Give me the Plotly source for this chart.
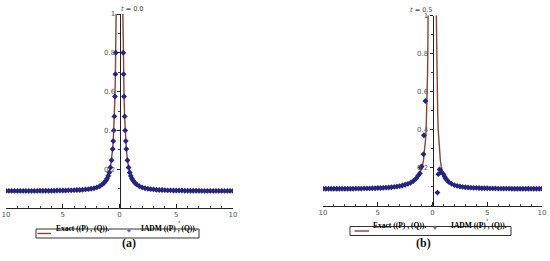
import plotly.graph_objects as go

# ---- data ----
# exact solution, panel (a) t = 0.0 (None splits the two branches)
exact_a_x = [-10, -7, -5, -4, -3, -2.5, -2, -1.5, -1.2, -1.0, -0.9, -0.8, -0.7, -0.6, -0.55, -0.5,
             -0.45, -0.4, -0.37, -0.34, -0.32, -0.3, -0.28, None,
             0.28, 0.3, 0.32, 0.34, 0.37, 0.4, 0.45, 0.5, 0.55, 0.6, 0.7, 0.8, 0.9, 1.0, 1.2, 1.5,
             2, 2.5, 3, 4, 5, 7, 10]
exact_a_y = [0.088, 0.089, 0.090, 0.092, 0.096, 0.099, 0.106, 0.122, 0.141, 0.165, 0.183, 0.209, 0.246,
             0.305, 0.345, 0.40, 0.472, 0.575, 0.66, 0.76, 0.85, 0.95, 1.08, None,
             1.08, 0.95, 0.85, 0.76, 0.66, 0.575, 0.472, 0.40, 0.345, 0.305, 0.246, 0.209, 0.183,
             0.165, 0.141, 0.122, 0.106, 0.099, 0.096, 0.092, 0.090, 0.089, 0.088]

# exact solution, panel (b) t = 0.5
exact_b_x = [-10, -7, -5, -4, -3, -2.5, -2, -1.6, -1.3, -1.1, -0.94, -0.82, -0.7, -0.63, -0.58, -0.52,
             -0.48, -0.45, -0.43, -0.41, -0.4, -0.39, None,
             0.33, 0.34, 0.355, 0.37, 0.4, 0.43, 0.47, 0.52, 0.58, 0.64, 0.72, 0.82, 1.0, 1.2, 1.5,
             2, 2.5, 3, 4, 5, 7, 10]
exact_b_y = [0.088, 0.089, 0.092, 0.095, 0.102, 0.109, 0.12, 0.137, 0.158, 0.18, 0.2, 0.24, 0.3, 0.35,
             0.4, 0.5, 0.6, 0.7, 0.8, 0.9, 1.0, 1.08, None,
             1.08, 1.0, 0.9, 0.8, 0.7, 0.6, 0.5, 0.4, 0.33, 0.28, 0.235, 0.2, 0.165, 0.142, 0.123,
             0.107, 0.1, 0.096, 0.093, 0.091, 0.089, 0.088]

# IADM points, panel (a)
iadm_a_x = [-10, -9.75, -9.5, -9.25, -9, -8.75, -8.5, -8.25, -8, -7.75, -7.5, -7.25, -7, -6.75, -6.5,
            -6.25, -6, -5.75, -5.5, -5.25, -5, -4.75, -4.5, -4.25, -4, -3.75, -3.5, -3.25, -3, -2.75,
            -2.5, -2.25, -2, -1.75, -1.5, -1.35, -1.2, -1.1, -1.0, -0.9, -0.8, -0.7, -0.6, -0.55,
            -0.5, -0.45, -0.4, -0.36, -0.33,
            0.33, 0.36, 0.4, 0.45, 0.5, 0.55, 0.6, 0.7, 0.8, 0.9, 1.0, 1.1, 1.2, 1.35, 1.5, 1.75,
            2, 2.25, 2.5, 2.75, 3, 3.25, 3.5, 3.75, 4, 4.25, 4.5, 4.75, 5, 5.25, 5.5, 5.75, 6, 6.25,
            6.5, 6.75, 7, 7.25, 7.5, 7.75, 8, 8.25, 8.5, 8.75, 9, 9.25, 9.5, 9.75, 10]
iadm_a_y = [0.088, 0.088, 0.088, 0.088, 0.088, 0.088, 0.088, 0.088, 0.088, 0.088, 0.088, 0.088, 0.089,
            0.089, 0.089, 0.089, 0.089, 0.089, 0.090, 0.090, 0.090, 0.090, 0.091, 0.091, 0.092, 0.093,
            0.093, 0.094, 0.096, 0.097, 0.099, 0.102, 0.106, 0.112, 0.122, 0.130, 0.141, 0.151, 0.165,
            0.183, 0.209, 0.246, 0.304, 0.345, 0.40, 0.472, 0.575, 0.69, 0.80,
            0.80, 0.69, 0.575, 0.472, 0.40, 0.345, 0.304, 0.246, 0.209, 0.183, 0.165, 0.151, 0.141,
            0.130, 0.122, 0.112, 0.106, 0.102, 0.099, 0.097, 0.096, 0.094, 0.093, 0.093, 0.092, 0.091,
            0.091, 0.090, 0.090, 0.090, 0.090, 0.089, 0.089, 0.089, 0.089, 0.089, 0.089, 0.088, 0.088,
            0.088, 0.088, 0.088, 0.088, 0.088, 0.088, 0.088, 0.088, 0.088, 0.088]

# IADM points, panel (b)
iadm_b_x = [-10, -9.75, -9.5, -9.25, -9, -8.75, -8.5, -8.25, -8, -7.75, -7.5, -7.25, -7, -6.75, -6.5,
            -6.25, -6, -5.75, -5.5, -5.25, -5, -4.75, -4.5, -4.25, -4, -3.75, -3.5, -3.25, -3, -2.75,
            -2.5, -2.25, -2, -1.75, -1.5, -1.3, -1.15, -1.08, -1.0, -0.82, -0.78, -0.65,
            0.45, 0.53, 0.65, 0.8, 1.0, 1.1, 1.2, 1.35, 1.5, 1.75,
            2, 2.25, 2.5, 2.75, 3, 3.25, 3.5, 3.75, 4, 4.25, 4.5, 4.75, 5, 5.25, 5.5, 5.75, 6, 6.25,
            6.5, 6.75, 7, 7.25, 7.5, 7.75, 8, 8.25, 8.5, 8.75, 9, 9.25, 9.5, 9.75, 10]
iadm_b_y = [0.088, 0.088, 0.088, 0.088, 0.088, 0.088, 0.088, 0.088, 0.088, 0.088, 0.088, 0.088, 0.089,
            0.089, 0.089, 0.090, 0.090, 0.090, 0.091, 0.091, 0.092, 0.092, 0.093, 0.094, 0.095, 0.096,
            0.098, 0.100, 0.102, 0.105, 0.109, 0.114, 0.120, 0.129, 0.142, 0.158, 0.17, 0.20, 0.205,
            0.27, 0.37, 0.55,
            0.068, 0.165, 0.19, 0.175, 0.165, 0.152, 0.142, 0.131, 0.123, 0.114,
            0.107, 0.103, 0.100, 0.098, 0.096, 0.095, 0.094, 0.093, 0.093, 0.092, 0.091, 0.091, 0.091,
            0.090, 0.090, 0.090, 0.089, 0.089, 0.089, 0.089, 0.089, 0.088, 0.088, 0.088, 0.088, 0.088,
            0.088, 0.088, 0.088, 0.088, 0.088, 0.088, 0.088]

x_tickvals = [-10, -5, 0, 5, 10]
x_ticktext = ["10", "5", "0", "5", "10"]
y_tickvals = [0.2, 0.4, 0.6, 0.8, 1.0]
y_ticktext = ["0.2", "0.4", "0.6", "0.8", "1"]
panel_titles = ["<i>t</i> = 0.0", "<i>t</i> = 0.5"]
panel_tags = ["(a)", "(b)"]
legend_names = ["Exact ((P) , (Q)).", "IADM ((P) , (Q))."]

W, H = 550, 261
LINE_COLOR = "#86443a"
MARK_COLOR = "#25257f"
TICK_FONT = dict(family="DejaVu Sans", size=7, color="#555555")


def px(x):
    return x / W


def py(y):
    return 1 - y / H


fig = go.Figure()

panels = [
    dict(xa="x", ya="y", ex=exact_a_x, ey=exact_a_y, ix=iadm_a_x, iy=iadm_a_y),
    dict(xa="x2", ya="y2", ex=exact_b_x, ey=exact_b_y, ix=iadm_b_x, iy=iadm_b_y),
]
for p in panels:
    fig.add_trace(go.Scatter(x=p["ex"], y=p["ey"], mode="lines", xaxis=p["xa"], yaxis=p["ya"],
                             line=dict(color=LINE_COLOR, width=1.4), showlegend=False))
    fig.add_trace(go.Scatter(x=p["ix"], y=p["iy"], mode="markers", xaxis=p["xa"], yaxis=p["ya"],
                             marker=dict(symbol="diamond", size=4.5, color=MARK_COLOR, line=dict(width=0)),
                             showlegend=False))

# pixel geometry of the two panels: (left, right, y0 pixel, y1 pixel)
geo = [(6, 233, 208, 14), (323, 542, 205.5, 15.5)]


def xaxis_cfg(g, anchor):
    return dict(domain=[px(g[0]), px(g[1])], range=[-10, 10], anchor=anchor, automargin=False,
                showline=True, linecolor="#222222", linewidth=1, showgrid=False, zeroline=False,
                ticks="inside", ticklen=4, tickcolor="#222222", tickvals=x_tickvals,
                ticktext=x_ticktext, tickfont=TICK_FONT,
                minor=dict(ticks="inside", ticklen=2, tickmode="linear", tick0=0, dtick=1,
                           tickcolor="#444444", showgrid=False))


def yaxis_cfg(g):
    return dict(domain=[py(g[2]), py(g[3])], range=[0, 1], anchor="free", automargin=False,
                position=px((g[0] + g[1]) / 2),
                showline=True, linecolor="#222222", linewidth=1, showgrid=False, zeroline=False,
                ticks="outside", ticklen=3, tickcolor="#222222", tickvals=y_tickvals,
                ticktext=y_ticktext, tickfont=TICK_FONT,
                minor=dict(ticks="outside", ticklen=2, tickmode="linear", tick0=0, dtick=0.1,
                           tickcolor="#444444", showgrid=False))


fig.update_layout(
    width=W, height=H, margin=dict(l=0, r=0, t=0, b=0, autoexpand=False),
    paper_bgcolor="white", plot_bgcolor="white",
    xaxis=xaxis_cfg(geo[0], "y"), yaxis=yaxis_cfg(geo[0]),
    xaxis2=xaxis_cfg(geo[1], "y2"), yaxis2=yaxis_cfg(geo[1]),
)

annotations = []
shapes = []
# legend boxes: (box x0, box x1, y center, line x0, line x1, text1 x, diamond x, text2 x)
legends = [(36, 199, 233.5, 35.5, 51, 55, 125.5, 140),
           (350, 511, 231, 352.5, 369, 372, 438, 450)]
serif = dict(family="Liberation Serif", size=7.5, color="#000000")
for i, g in enumerate(geo):
    cx = (g[0] + g[1]) / 2
    annotations.append(dict(x=px(cx), y=py(g[3] - 10.5), xref="paper", yref="paper", text=panel_titles[i],
                            showarrow=False, borderpad=0,
                            font=dict(family="DejaVu Sans", size=6.5, color="#444444")))
    annotations.append(dict(x=px(cx + 57), y=py(g[2] + 17), xref="paper", yref="paper", text="x",
                            showarrow=False, borderpad=0,
                            font=dict(family="DejaVu Sans", size=4, color="#555555")))
    annotations.append(dict(x=px(cx), y=py(252), xref="paper", yref="paper", text="<b>" + panel_tags[i] + "</b>",
                            showarrow=False, font=dict(family="Liberation Serif", size=12, color="#111111")))
    bx0, bx1, yc, lx0, lx1, t1x, dx, t2x = legends[i]
    shapes.append(dict(type="rect", xref="paper", yref="paper", x0=px(bx0), x1=px(bx1),
                       y0=py(yc + 4.5), y1=py(yc - 4.5), line=dict(color="#333333", width=1)))
    shapes.append(dict(type="line", xref="paper", yref="paper", x0=px(lx0 + 2), x1=px(lx1),
                       y0=py(yc), y1=py(yc), line=dict(color=LINE_COLOR, width=1.4)))
    annotations.append(dict(x=px(t1x), y=py(yc), xref="paper", yref="paper", xanchor="left",
                            text="<b>" + legend_names[0] + "</b>", showarrow=False, borderpad=0, font=serif))
    annotations.append(dict(x=px(dx), y=py(yc), xref="paper", yref="paper",
                            text="◆", showarrow=False, borderpad=0,
                            font=dict(family="DejaVu Sans", size=5, color="#6a6ab0")))
    annotations.append(dict(x=px(t2x), y=py(yc), xref="paper", yref="paper", xanchor="left",
                            text="<b>" + legend_names[1] + "</b>", showarrow=False, borderpad=0, font=serif))

fig.update_layout(annotations=annotations, shapes=shapes)

# the page's default body margin would shift the figure by 8px
fig.write_html("out.html", config={"displayModeBar": False},
               post_script="document.body.style.margin='0';")
